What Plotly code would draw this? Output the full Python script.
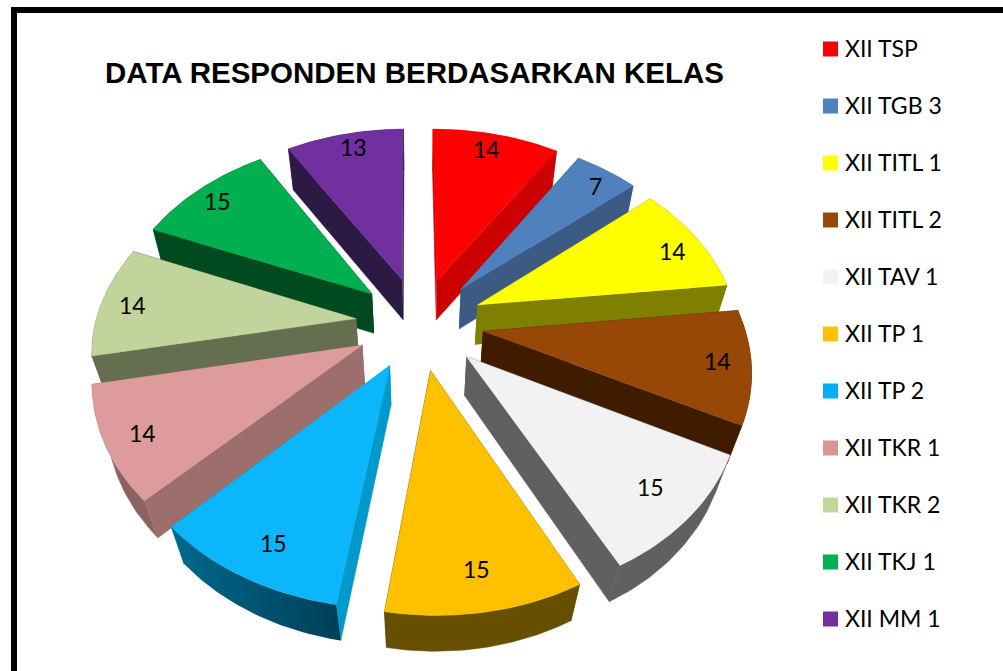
import numpy as np
import plotly.graph_objects as go

categories = ["XII TSP", "XII TGB 3", "XII TITL 1", "XII TITL 2", "XII TAV 1", "XII TP 1",
              "XII TP 2", "XII TKR 1", "XII TKR 2", "XII TKJ 1", "XII MM 1"]
values = [14, 7, 14, 14, 15, 15, 15, 14, 14, 15, 13]

top_colors = ["#FF0000", "#4F81BD", "#FFFF00", "#974706", "#F2F2F2", "#FFC000",
              "#0BB7FA", "#DD9C9B", "#C0D49C", "#00B050", "#7030A0"]
legend_colors = ["#FF0000", "#4F81BD", "#FFFF00", "#974706", "#F2F2F2", "#FFC000",
                 "#00B0F0", "#D99694", "#C3D69B", "#00B050", "#7030A0"]
radial_colors = ["#CC0000", "#3B5B85", "#808000", "#3F1C00", "#606060", "#665000",
                 "#0099CC", "#9C6E6C", "#666E50", "#004A20", "#2C1A44"]
rim_colors = ["#CC0000", "#3B5B85", "#808000", "#3F1C00", "#606060", "#665000",
              "#00607F", "#8B6462", "#666E50", "#004A20", "#2C1A44"]
label_px = [(486, 149), (595, 186), (672, 251), (717, 361), (650, 487), (476, 569),
            (273, 543), (142, 433), (132, 305), (217, 201), (353, 147)]

W, H = 1003, 671
CX, CY, A, B, K, Q = 419.5, 323.0, 266.0, 192.0, 0.165, -0.012
ROT = np.radians(-0.4)
EXPLODE, RADIUS = 0.24, 0.98
VP_X, VP_Y = 420.0, 1250.0
FONT = "Lato"


def project(u, v):
    u, v = np.asarray(u, float), np.asarray(v, float)
    s = 1 / (1 + K * v)
    return CX + A * (u + Q * np.minimum(v, 0)) * s, CY - B * v * s


def drop(x, y):
    h = 41 - 5 * (y - 150) / 450
    return x + (VP_X - x) * h / (VP_Y - y), y + h


fig = go.Figure()
total = sum(values)
edges = np.radians(np.cumsum([0] + values) / total * 360) + ROT
order = sorted(range(len(values)), key=lambda i: -np.cos((edges[i] + edges[i + 1]) / 2))


def poly(x, y, color, name, grad=None):
    kw = {"fillgradient": grad} if grad else {"fillcolor": color}
    fig.add_trace(go.Scatter(x=list(x), y=list(y), mode="lines", fill="toself",
                             line=dict(width=0.5, color=color if not grad else "rgba(0,0,0,0)"),
                             name=name, showlegend=False, hoverinfo="name", **kw))


for i in order:
    a0, a1 = edges[i], edges[i + 1]
    mid = (a0 + a1) / 2
    au, av = EXPLODE * np.sin(mid), EXPLODE * np.cos(mid)
    th = np.linspace(a0, a1, 40)
    ru, rv = au + RADIUS * np.sin(th), av + RADIUS * np.cos(th)
    rx, ry = project(ru, rv)
    ax, ay = project(au, av)
    ax, ay = float(ax), float(ay)
    bax, bay = drop(ax, ay)
    brx, bry = drop(rx, ry)
    faces = [
        (av + RADIUS * np.cos(a0) / 2, [ax, rx[0], brx[0], bax], [ay, ry[0], bry[0], bay], radial_colors[i], None),
        (av + RADIUS * np.cos(a1) / 2, [ax, rx[-1], brx[-1], bax], [ay, ry[-1], bry[-1], bay], radial_colors[i], None),
        (rv.mean(), np.r_[rx, brx[::-1]], np.r_[ry, bry[::-1]], rim_colors[i],
         dict(type="horizontal", colorscale=[[0, "#00698C"], [1, "#003F58"]]) if categories[i] == "XII TP 2" else None),
    ]
    for _, fx, fy, col, grad in sorted(faces, key=lambda f: -f[0]):
        poly(fx, fy, col, categories[i], grad)
    poly(np.r_[ax, rx], np.r_[ay, ry], top_colors[i], categories[i])

# legend
LEG_X, LEG_Y0, LEG_STEP = 830.5, 49, 57
leg_y = [LEG_Y0 + LEG_STEP * n for n in range(len(categories))]
fig.add_trace(go.Scatter(x=[LEG_X] * len(categories), y=leg_y, mode="markers", showlegend=False,
                         hoverinfo="skip",
                         marker=dict(symbol="square", size=15, color=legend_colors, line=dict(width=0))))

annotations = []
for name, y in zip(categories, leg_y):
    annotations.append(dict(x=843, y=y - 1, xref="x", yref="y", text=name, showarrow=False, xanchor="left",
                            yanchor="middle", font=dict(family=FONT, size=23, color="#000000")))
for val, (lx, ly) in zip(values, label_px):
    annotations.append(dict(x=lx, y=ly, xref="x", yref="y", text=str(val), showarrow=False, xanchor="center",
                            yanchor="middle", font=dict(family=FONT, size=23, color="#000000")))

fig.update_layout(
    width=W, height=H, margin=dict(l=0, r=0, t=0, b=0), autosize=False,
    paper_bgcolor="white", plot_bgcolor="white", showlegend=False,
    title=dict(text="<b>DATA RESPONDEN BERDASARKAN KELAS</b>", x=414.5 / W, xanchor="center",
               y=1 - 73 / H, yanchor="middle",
               font=dict(family="Liberation Sans", size=29.5, color="#000000")),
    xaxis=dict(range=[0, W], visible=False, domain=[0, 1], fixedrange=True),
    yaxis=dict(range=[H, 0], visible=False, domain=[0, 1], fixedrange=True),
    annotations=annotations,
    shapes=[dict(type="rect", xref="x", yref="y", x0=14, y0=10, x1=W + 20, y1=H + 20,
                 line=dict(color="#000000", width=6), layer="below")],
)

fig.write_html("out.html", config=dict(displayModeBar=False),
               post_script="document.body.style.margin='0';document.body.style.overflow='hidden';")
